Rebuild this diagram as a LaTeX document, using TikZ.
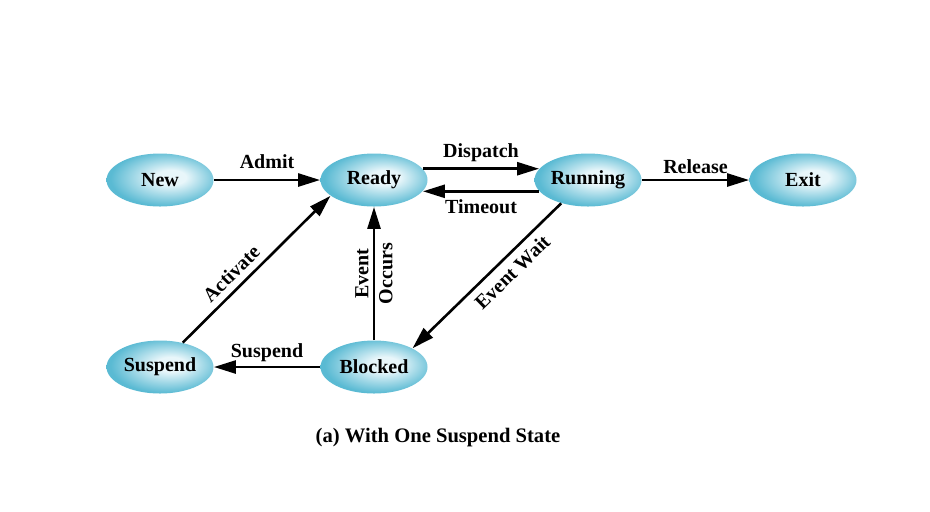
\documentclass[tikz,border=0pt]{standalone}
\usepackage{fontspec}
\setmainfont{Liberation Serif}
\usetikzlibrary{shapes.geometric,arrows.meta}

\definecolor{statelight}{RGB}{232,246,250}
\definecolor{statedark}{RGB}{90,186,211}
\pgfdeclareradialshading{stateshade}{\pgfpoint{6bp}{3bp}}{color(0bp)=(statelight); color(7bp)=(statelight); color(26bp)=(statedark); color(50bp)=(statedark)}

\tikzset{
    state/.style={ellipse, shading=stateshade, minimum width=53.5pt, minimum height=26.5pt, inner sep=0pt},
    trans/.style={-{Triangle[length=11pt,width=6.5pt]}, line width=1.3pt},
}

\begin{document}
\begin{tikzpicture}[x=0.5pt, y=-0.5pt, font=\bfseries]
    \useasboundingbox (0,0) rectangle (930,511);

    % States
    \foreach \name/\x/\y/\txt in {new/160/180/New, ready/374/180/Ready, running/588/180/Running,
        exit/803/180/Exit, suspend/160/367/Suspend, blocked/374/367/Blocked} {
        \node[state] (\name) at (\x,\y) {\txt};
    }

    % Transitions
    \draw[trans] (new) -- node[above=1.5pt] {Admit} (ready);
    \draw[trans] (ready.13) -- node[above=-0.5pt] {Dispatch} (running.167);
    \draw[trans] (running.193) -- node[below=0pt] {Timeout} (ready.-13);
    \draw[trans] (running) -- node[above=-1pt] {Release} (exit);
    \draw[trans] (running.221) -- node[pos=0.4, sloped, below] {Event Wait} (blocked.26);
    \draw[trans] (blocked) -- node[midway, rotate=90, align=center] {Event\\Occurs} (ready);
    \draw[trans] (blocked) -- node[above=-1.5pt] {Suspend} (suspend);
    \draw[trans] (suspend.47) -- node[pos=0.4, sloped, above] {Activate} (ready.200);

    \node[font=\bfseries\fontsize{10.3}{12}\selectfont] (caption) at (438,438) {(a) With One Suspend State};
\end{tikzpicture}
\end{document}
